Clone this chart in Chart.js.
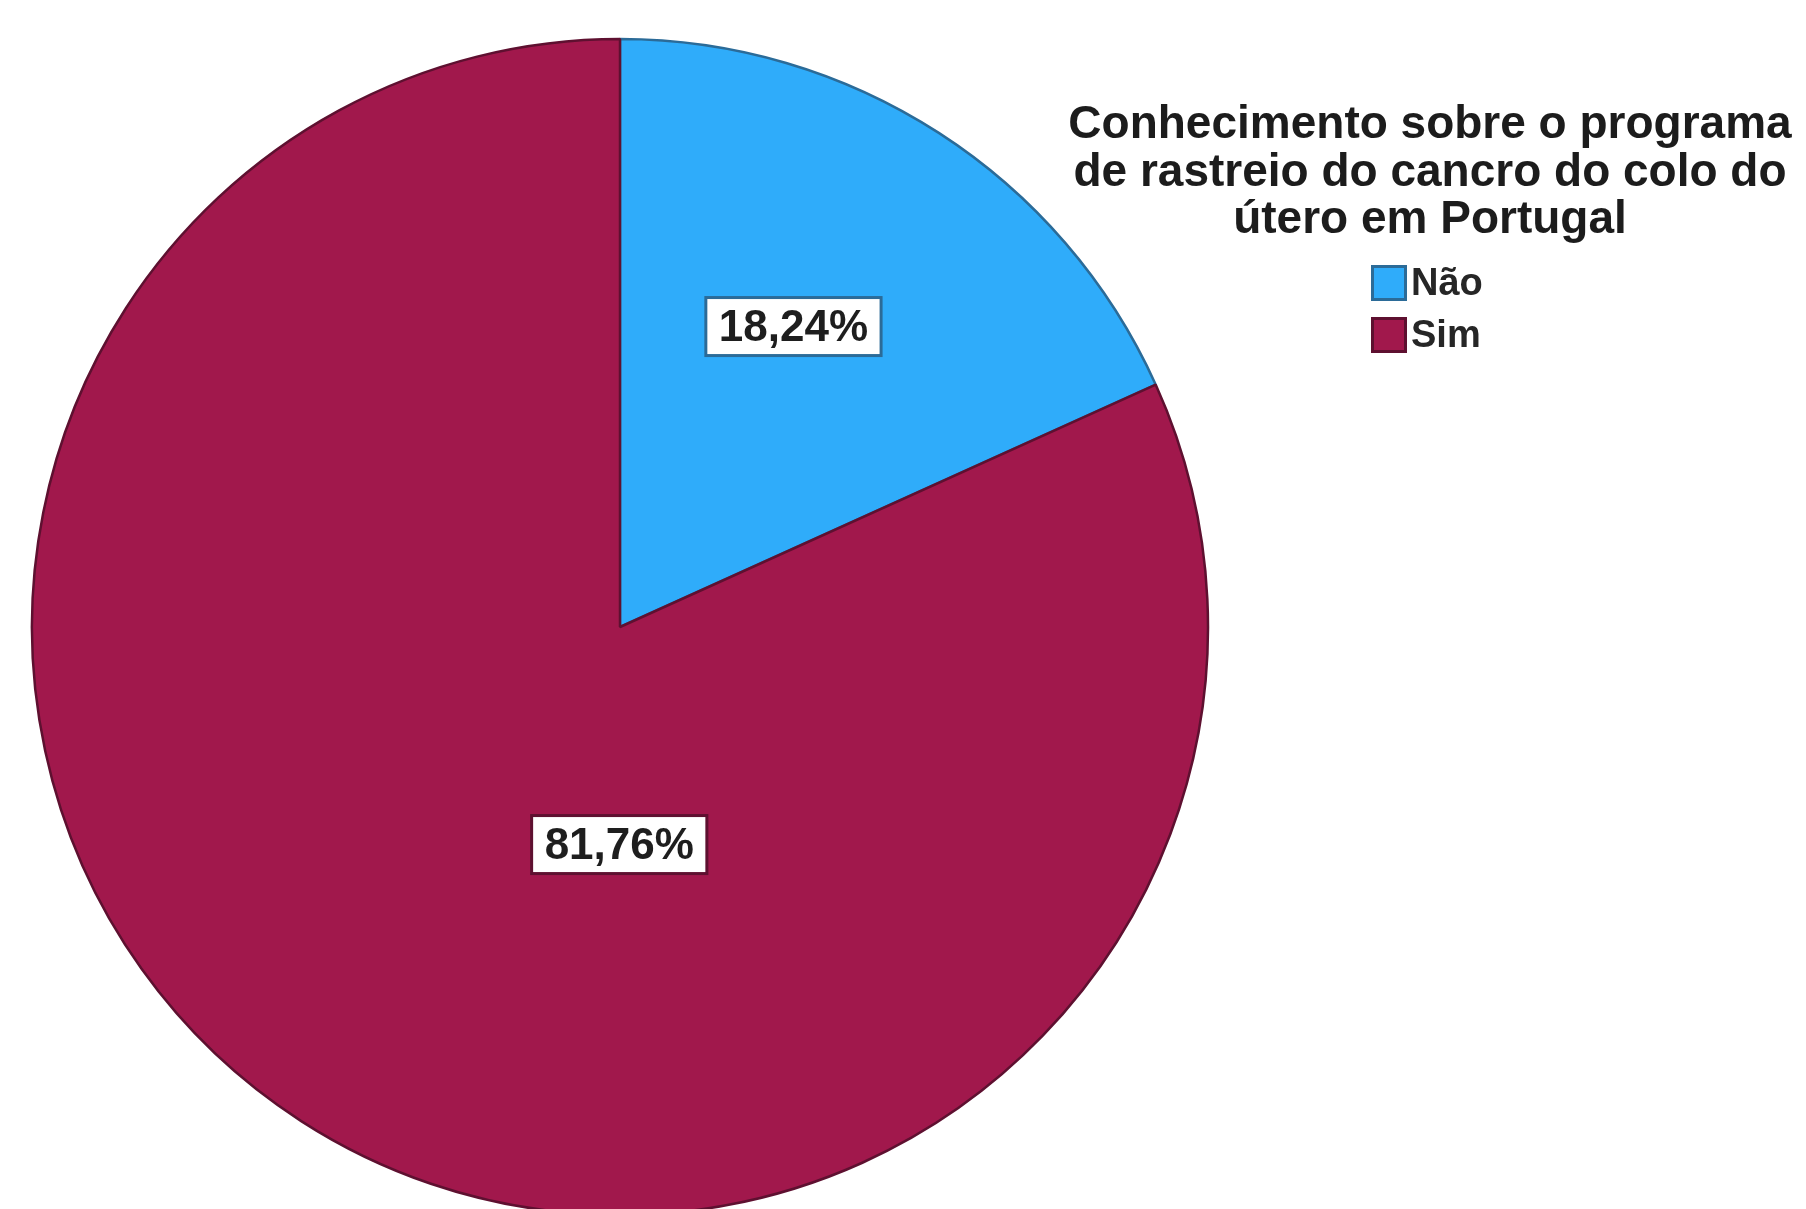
<!DOCTYPE html>
<html lang="pt">
<head>
<meta charset="utf-8">
<title>Conhecimento sobre o programa de rastreio do cancro do colo do útero em Portugal</title>
<script src="https://cdn.jsdelivr.net/npm/chart.js@4/dist/chart.umd.min.js"></script>
<style>
  html, body { margin: 0; padding: 0; background: #ffffff; }
  #wrap { width: 1806px; height: 1209px; overflow: hidden; }
</style>
</head>
<body>
<div id="wrap"><canvas id="pie" width="1806" height="1209"></canvas></div>
<script>
// Respostas (percentagem de inquiridas)
const categories = ['Não', 'Sim'];
const percentages = [18.24, 81.76];
const legendTitleLines = [
  'Conhecimento sobre o programa',
  'de rastreio do cancro do colo do',
  'útero em Portugal'
];

const sliceColors = ['#2FACFA', '#A1184C'];
const sliceBorders = ['#2B6B98', '#5E1030'];

const FONT = '"Liberation Sans", Arial, "DejaVu Sans", sans-serif';

// Formats a value the Portuguese way: 18.24 -> "18,24%"
function pctText(v) {
  return v.toFixed(2).replace('.', ',') + '%';
}

// Boxed percentage labels inside each slice
const sliceLabels = {
  id: 'sliceLabels',
  afterDatasetsDraw(chart, args, opts) {
    const ctx = chart.ctx;
    const meta = chart.getDatasetMeta(0);
    const values = chart.data.datasets[0].data;
    meta.data.forEach((arc, i) => {
      const p = opts.placement[i];
      const a = p.angle * Math.PI / 180;
      const r = arc.outerRadius * p.dist;
      const cx = arc.x + Math.cos(a) * r;
      const cy = arc.y + Math.sin(a) * r;
      const text = pctText(values[i]);
      ctx.save();
      ctx.font = 'bold 44px ' + FONT;
      const w = ctx.measureText(text).width + 26;
      const h = 58;
      ctx.fillStyle = '#ffffff';
      ctx.fillRect(cx - w / 2, cy - h / 2, w, h);
      ctx.lineWidth = 3;
      ctx.strokeStyle = sliceBorders[i];
      ctx.strokeRect(cx - w / 2, cy - h / 2, w, h);
      ctx.fillStyle = '#1e1e1e';
      ctx.textAlign = 'center';
      ctx.textBaseline = 'middle';
      ctx.fillText(text, cx, cy + 2);
      ctx.restore();
    });
  }
};

// Legend with its multi-line title, on the right of the pie
const sideLegend = {
  id: 'sideLegend',
  afterDraw(chart, args, opts) {
    const ctx = chart.ctx;
    const ds = chart.data.datasets[0];
    ctx.save();
    ctx.fillStyle = '#1c1c1c';
    ctx.textAlign = 'center';
    ctx.textBaseline = 'alphabetic';
    ctx.font = 'bold 46px ' + FONT;
    opts.title.forEach((line, k) => {
      ctx.fillText(line, opts.titleX, opts.titleY + k * opts.titleLeading);
    });
    ctx.font = 'bold 38px ' + FONT;
    ctx.textAlign = 'left';
    ctx.textBaseline = 'middle';
    chart.data.labels.forEach((lab, i) => {
      const y = opts.itemY + i * opts.itemPitch;
      ctx.fillStyle = ds.backgroundColor[i];
      ctx.fillRect(opts.itemX, y, opts.box, opts.box);
      ctx.lineWidth = 3;
      ctx.strokeStyle = ds.borderColor[i];
      ctx.strokeRect(opts.itemX + 1.5, y + 1.5, opts.box - 3, opts.box - 3);
      ctx.fillStyle = '#262626';
      ctx.fillText(lab, opts.itemX + opts.box + 4, y + opts.box / 2 + 2);
    });
    ctx.restore();
  }
};

new Chart(document.getElementById('pie'), {
  type: 'pie',
  data: {
    labels: categories,
    datasets: [{
      data: percentages,
      backgroundColor: sliceColors,
      borderColor: sliceBorders,
      borderWidth: 2.5,
      radius: 588
    }]
  },
  options: {
    responsive: false,
    animation: false,
    layout: { padding: { left: 0, right: 566, top: 45, bottom: 0 } },
    plugins: {
      legend: { display: false },
      tooltip: { enabled: false },
      sliceLabels: {
        placement: [
          { angle: -60, dist: 0.59 },
          { angle: 90.2, dist: 0.37 }
        ]
      },
      sideLegend: {
        title: legendTitleLines,
        titleX: 1430,
        titleY: 138,
        titleLeading: 47.5,
        itemX: 1371,
        itemY: 265,
        itemPitch: 52,
        box: 36
      }
    }
  },
  plugins: [sliceLabels, sideLegend]
});
</script>
</body>
</html>
